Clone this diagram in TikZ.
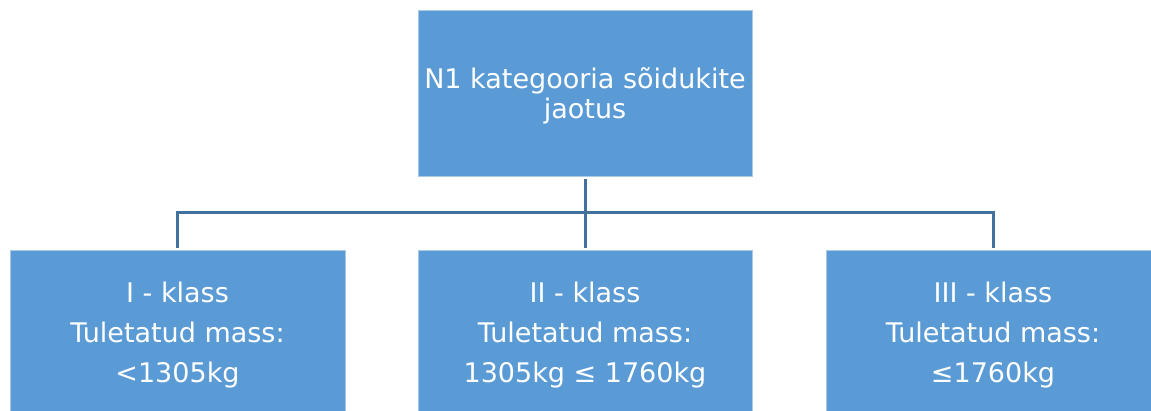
\documentclass[tikz,border=0pt]{standalone}
\usepackage{fontspec}
\setmainfont{DejaVu Sans}
\usetikzlibrary{calc}
\definecolor{boxblue}{HTML}{5B9BD5}
\definecolor{boxedge}{HTML}{A9C8EA}
\definecolor{linkblue}{HTML}{41719C}
\begin{document}
\begin{tikzpicture}[x=1pt,y=-1pt,
  box/.style={rectangle,fill=boxblue,draw=boxedge,line width=0.8pt,inner sep=0pt},
  txt/.style={text=white,align=center,inner sep=0pt},
  link/.style={draw=linkblue,line width=3pt}]
\useasboundingbox (0,0) rectangle (1151,410);
\begin{scope}
\clip (0,0) rectangle (1151,410);
\node[box,minimum width=334pt,minimum height=166pt] (top) at (585,93) {};
\node[box,minimum width=335pt,minimum height=162pt] (b1) at (177.5,331) {};
\node[box,minimum width=334pt,minimum height=162pt] (b2) at (585,331) {};
\node[box,minimum width=334pt,minimum height=162pt] (b3) at (993,331) {};
\end{scope}
\node[txt,font=\fontsize{27}{30}\selectfont] (ttop) at ($(top.center)+(0,3)$) {N1 kategooria sõidukite\\jaotus};
\node[txt,font=\fontsize{27}{40}\selectfont] (t1) at (177.5,335) {I - klass\\Tuletatud mass:\\<1305kg};
\node[txt,font=\fontsize{27}{40}\selectfont] (t2) at (585,335) {II - klass\\Tuletatud mass:\\1305kg ≤ 1760kg};
\node[txt,font=\fontsize{27}{40}\selectfont] (t3) at (993,335) {III - klass\\Tuletatud mass:\\≤1760kg};
\coordinate (hub) at (585,212);
\coordinate (hl) at (177.5,212);
\coordinate (hr) at (993,212);
\draw[link] ($(top.south)+(0,3)$) -- (hub);
\draw[link] ([xshift=-1.5pt]hl) -- ([xshift=1.5pt]hr);
\draw[link] (hl) -- ($(b1.north)+(0,-2)$);
\draw[link] (hub) -- ($(b2.north)+(0,-2)$);
\draw[link] (hr) -- ($(b3.north)+(0,-2)$);
\end{tikzpicture}
\end{document}
